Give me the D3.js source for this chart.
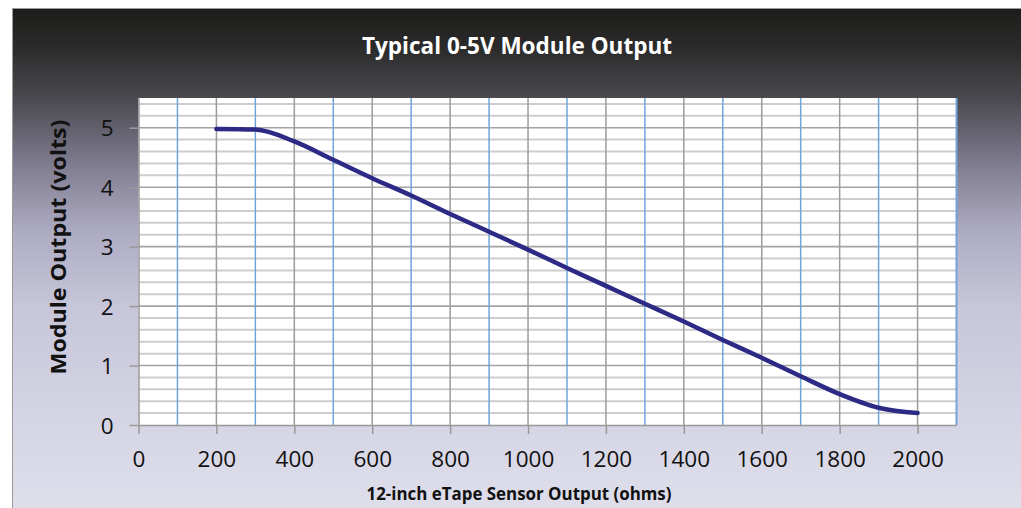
<!DOCTYPE html>
<html>
<head>
<meta charset="utf-8">
<script src="https://cdn.jsdelivr.net/npm/d3@7"></script>
<style>
  html, body { margin: 0; padding: 0; background: #ffffff; }
  svg { display: block; }
  text { font-family: "Open Sans", "Noto Sans", sans-serif; }
</style>
</head>
<body>
<svg id="chart" width="1021" height="508"></svg>
<script>
// ---- data ----
const title = "Typical 0-5V Module Output";
const xTitle = "12-inch eTape Sensor Output (ohms)";
const yTitle = "Module Output (volts)";
const resistance = [200, 300, 400, 500, 600, 700, 800, 900, 1000, 1100, 1200, 1300, 1400, 1500, 1600, 1700, 1800, 1900, 2000];
const voltage    = [4.98, 4.97, 4.77, 4.46, 4.15, 3.86, 3.55, 3.25, 2.95, 2.64, 2.34, 2.04, 1.74, 1.43, 1.13, 0.82, 0.52, 0.29, 0.20];
const xTicks = [0, 200, 400, 600, 800, 1000, 1200, 1400, 1600, 1800, 2000];
const yTicks = [0, 1, 2, 3, 4, 5];
const xDomain = [0, 2100];
const yDomain = [0, 5.5];

// ---- layout ----
const svg = d3.select("#chart");
const W = 1021, H = 508;
const plot = { left: 138.5, right: 956.5, top: 98, bottom: 425 };

const x = d3.scaleLinear().domain(xDomain).range([plot.left, plot.right]);
const y = d3.scaleLinear().domain(yDomain).range([plot.bottom, plot.top]);

// background gradient
const defs = svg.append("defs");
const grad = defs.append("linearGradient")
  .attr("id", "bg").attr("gradientUnits", "userSpaceOnUse")
  .attr("x1", 0).attr("y1", 8).attr("x2", 0).attr("y2", 508);
[
  [0.00, "#1c1c1a"],
  [0.08, "#2c2b2b"],
  [0.18, "#4a494f"],
  [0.32, "#827f93"],
  [0.45, "#aeacc3"],
  [0.60, "#c7c6da"],
  [0.80, "#d4d3e3"],
  [1.00, "#dfdeeb"]
].forEach(([o, c]) => grad.append("stop").attr("offset", o).attr("stop-color", c));

svg.append("rect")
  .attr("x", 12.5).attr("y", 8.5).attr("width", W + 20).attr("height", H + 20)
  .attr("fill", "url(#bg)").attr("stroke", "#9a9a9a").attr("stroke-width", 1);

// plot area
svg.append("rect")
  .attr("x", plot.left).attr("y", plot.top)
  .attr("width", plot.right - plot.left).attr("height", plot.bottom - plot.top)
  .attr("fill", "#ffffff");

const grid = svg.append("g");

// minor horizontal grid (every 0.2)
const minorY = d3.range(0, 5.5 + 1e-9, 0.2).map(v => +v.toFixed(1)).filter(v => Math.abs(v - Math.round(v)) > 1e-6);
grid.selectAll("line.minorY").data(minorY).join("line")
  .attr("x1", plot.left).attr("x2", plot.right)
  .attr("y1", d => y(d)).attr("y2", d => y(d))
  .attr("stroke", "#cdcdcd").attr("stroke-width", 2);

// major horizontal grid
grid.selectAll("line.majorY").data(yTicks.filter(v => v > 0)).join("line")
  .attr("x1", plot.left).attr("x2", plot.right)
  .attr("y1", d => y(d)).attr("y2", d => y(d))
  .attr("stroke", "#a3a3a3").attr("stroke-width", 1.6);

// vertical grid: every 100, odd hundreds blue, even hundreds gray
const vGrid = d3.range(100, 2100 + 1, 100);
grid.selectAll("line.v").data(vGrid).join("line")
  .attr("x1", d => x(d)).attr("x2", d => x(d))
  .attr("y1", plot.top).attr("y2", plot.bottom)
  .attr("stroke", d => (d / 100) % 2 === 1 ? "#6ea6dc" : "#9c9c9c")
  .attr("stroke-width", d => d === 2100 ? 2 : 1.5);

// axes
const fmt = d3.format("d");
const xAxis = svg.append("g")
  .attr("transform", `translate(0,${plot.bottom})`)
  .call(d3.axisBottom(x).tickValues(xTicks).tickFormat(fmt).tickSize(9).tickPadding(12).tickSizeOuter(0));
const yAxis = svg.append("g")
  .attr("transform", `translate(${plot.left},0)`)
  .call(d3.axisLeft(y).tickValues(yTicks).tickFormat(fmt).tickSize(9).tickPadding(16).tickSizeOuter(0));

[xAxis, yAxis].forEach(a => {
  a.select(".domain").attr("stroke", "#999999").attr("stroke-width", 1.5);
  a.selectAll(".tick line").attr("stroke", "#999999").attr("stroke-width", 1.5);
  a.selectAll(".tick text")
    .attr("fill", "#111111")
    .style("font-family", '"Open Sans", sans-serif')
    .style("font-size", "22.5px");
});
xAxis.selectAll(".tick text").attr("dy", "0.95em");
yAxis.selectAll(".tick text").attr("dy", "0.36em");

// line
const line = d3.line()
  .x((d, i) => x(resistance[i]))
  .y((d, i) => y(voltage[i]))
  .curve(d3.curveMonotoneX);
svg.append("path")
  .datum(voltage)
  .attr("d", line)
  .attr("fill", "none")
  .attr("stroke", "#2d2a86")
  .attr("stroke-width", 4.5)
  .attr("stroke-linecap", "round")
  .attr("stroke-linejoin", "round");

// titles: font size set from cap height, width forced to the reference width
const t = svg.append("text")
  .attr("x", 517).attr("y", 54.3)
  .attr("text-anchor", "middle")
  .attr("fill", "#ffffff")
  .attr("textLength", 310).attr("lengthAdjust", "spacingAndGlyphs")
  .style("font-weight", "bold").style("font-size", "22.5px")
  .text(title);

const xt = svg.append("text")
  .attr("x", 519).attr("y", 500)
  .attr("text-anchor", "middle")
  .attr("fill", "#111111")
  .attr("textLength", 305).attr("lengthAdjust", "spacingAndGlyphs")
  .style("font-weight", "bold").style("font-size", "18px")
  .text(xTitle);

const yt = svg.append("text")
  .attr("transform", "translate(66,247) rotate(-90)")
  .attr("text-anchor", "middle")
  .attr("fill", "#111111")
  .attr("textLength", 255).attr("lengthAdjust", "spacingAndGlyphs")
  .style("font-weight", "bold").style("font-size", "22px")
  .text(yTitle);
</script>
</body>
</html>
